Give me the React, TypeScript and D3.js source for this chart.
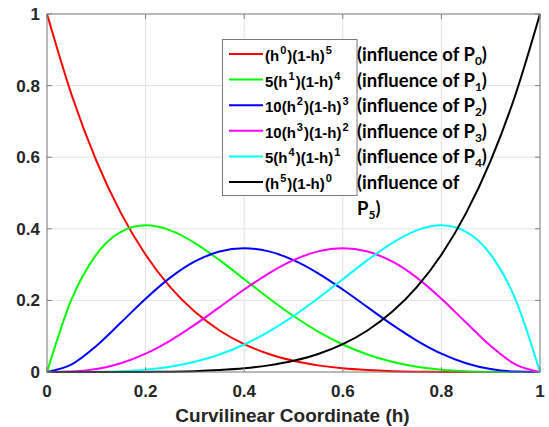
import React from "react";
import * as d3 from "d3";

const H = [0, 0.05, 0.1, 0.15, 0.2, 0.25, 0.3, 0.35, 0.4, 0.45, 0.5, 0.55, 0.6, 0.65, 0.7, 0.75, 0.8, 0.85, 0.9, 0.95, 1];
const B0 = [1, 0.7738, 0.5905, 0.4437, 0.3277, 0.2373, 0.1681, 0.116, 0.0778, 0.0503, 0.0313, 0.0185, 0.0102, 0.0053, 0.0024, 0.001, 0.0003, 0.0001, 0, 0, 0];
const B1 = [0, 0.2036, 0.3281, 0.3915, 0.4096, 0.3955, 0.3602, 0.3124, 0.2592, 0.2059, 0.1563, 0.1128, 0.0768, 0.0488, 0.0284, 0.0146, 0.0064, 0.0022, 0.0005, 0, 0];
const B2 = [0, 0.0214, 0.0729, 0.1382, 0.2048, 0.2637, 0.3087, 0.3364, 0.3456, 0.3369, 0.3125, 0.2757, 0.2304, 0.1812, 0.1323, 0.0879, 0.0512, 0.0244, 0.0081, 0.0011, 0];
const B3 = [0, 0.0011, 0.0081, 0.0244, 0.0512, 0.0879, 0.1323, 0.1812, 0.2304, 0.2757, 0.3125, 0.3369, 0.3456, 0.3364, 0.3087, 0.2637, 0.2048, 0.1382, 0.0729, 0.0214, 0];
const B4 = [0, 0, 0.0005, 0.0022, 0.0064, 0.0146, 0.0284, 0.0488, 0.0768, 0.1128, 0.1563, 0.2059, 0.2592, 0.3124, 0.3602, 0.3955, 0.4096, 0.3915, 0.3281, 0.2036, 0];
const B5 = [0, 0, 0, 0.0001, 0.0003, 0.001, 0.0024, 0.0053, 0.0102, 0.0185, 0.0313, 0.0503, 0.0778, 0.116, 0.1681, 0.2373, 0.3277, 0.4437, 0.5905, 0.7738, 1];

const SERIES = [B0, B1, B2, B3, B4, B5];
const COLORS = ["#ff0000", "#00ff00", "#0000ff", "#ff00ff", "#00ffff", "#000000"];
// legend: [coefficient, h exponent, (1-h) exponent]
const LEGEND: [string, string, string][] = [
  ["", "0", "5"],
  ["5", "1", "4"],
  ["10", "2", "3"],
  ["10", "3", "2"],
  ["5", "4", "1"],
  ["", "5", "0"],
];
const INFLUENCE = ["0", "1", "2", "3", "4", "5"];
const X_TICKS = [0, 0.2, 0.4, 0.6, 0.8, 1];
const Y_TICKS = [0, 0.2, 0.4, 0.6, 0.8, 1];
const X_LABEL = "Curvilinear Coordinate (h)";

export default function App() {
  const left = 47, right = 540, top = 14, bottom = 372;
  const x = d3.scaleLinear().domain([0, 1]).range([left, right]);
  const y = d3.scaleLinear().domain([0, 1]).range([bottom, top]);
  const line = d3
    .line<number>()
    .x((_, i) => x(H[i]))
    .y((d) => y(d))
    .curve(d3.curveMonotoneX);
  const axisColor = "#808080";
  const tickColor = "#262626";
  const arial = "Liberation Sans, Arial, sans-serif";
  const legX = 222.5, legY = 39.5, legW = 134.5, legH = 156;
  const rowY = (i: number) => 54 + i * 25.6;

  return (
    <svg width={549} height={427} style={{ position: "absolute", left: 0, top: 0, background: "#fff" }}>
      <rect x={0} y={0} width={549} height={427} fill="#fff" />
      {/* grid */}
      {X_TICKS.map((t) => (
        <line key={"gx" + t} x1={x(t)} x2={x(t)} y1={top} y2={bottom} stroke="#e3e3e3" strokeWidth={1} />
      ))}
      {Y_TICKS.map((t) => (
        <line key={"gy" + t} x1={left} x2={right} y1={y(t)} y2={y(t)} stroke="#e3e3e3" strokeWidth={1} />
      ))}
      {/* curves */}
      {SERIES.map((s, i) => (
        <path key={"s" + i} d={line(s) || ""} fill="none" stroke={COLORS[i]} strokeWidth={2} />
      ))}
      {/* axes box */}
      <rect x={left} y={top} width={right - left} height={bottom - top} fill="none" stroke={axisColor} strokeWidth={1} />
      {X_TICKS.map((t) => (
        <g key={"tx" + t}>
          <line x1={x(t)} x2={x(t)} y1={bottom} y2={bottom - 5} stroke={axisColor} />
          <line x1={x(t)} x2={x(t)} y1={top} y2={top + 5} stroke={axisColor} />
          <text x={x(t)} y={397} textAnchor="middle" fontFamily={arial} fontWeight="bold" fontSize={17} fill={tickColor}>
            {String(t)}
          </text>
        </g>
      ))}
      {Y_TICKS.map((t) => (
        <g key={"ty" + t}>
          <line x1={left} x2={left + 5} y1={y(t)} y2={y(t)} stroke={axisColor} />
          <line x1={right} x2={right - 5} y1={y(t)} y2={y(t)} stroke={axisColor} />
          <text x={40} y={y(t) + 6} textAnchor="end" fontFamily={arial} fontWeight="bold" fontSize={17} fill={tickColor}>
            {String(t)}
          </text>
        </g>
      ))}
      <text x={292.5} y={422} textAnchor="middle" fontFamily={arial} fontWeight="bold" fontSize={19} fill={tickColor}>
        {X_LABEL}
      </text>
      {/* legend */}
      <rect x={legX} y={legY} width={legW} height={legH} fill="#fff" stroke="#7a7a7a" strokeWidth={1} />
      {LEGEND.map(([c, a, b], i) => (
        <g key={"l" + i}>
          <line x1={229} x2={263} y1={rowY(i)} y2={rowY(i)} stroke={COLORS[i]} strokeWidth={2} />
          <text x={265} y={rowY(i) + 7} fontFamily={arial} fontWeight="bold" fontSize={15} fill="#000">
            {c}(h
            <tspan fontSize={11} dy={-7} dx={1}>{a}</tspan>
            <tspan dy={7} dx={1}>)(1-h)</tspan>
            <tspan fontSize={11} dy={-7} dx={1}>{b}</tspan>
          </text>
        </g>
      ))}
      {/* influence annotations */}
      {INFLUENCE.map((p, i) =>
        i < 5 ? (
          <text key={"a" + i} x={357} y={rowY(i) + 7} fontFamily="Lato, sans-serif" fontWeight="bold" fontSize={18.5} fill="#000">
            (influence of P
            <tspan fontSize={12} dy={4}>{p}</tspan>
            <tspan dy={-4}>)</tspan>
          </text>
        ) : (
          <g key={"a" + i}>
            <text x={357} y={rowY(i) + 7} fontFamily="Lato, sans-serif" fontWeight="bold" fontSize={18.5} fill="#000">
              (influence of
            </text>
            <text x={357} y={rowY(i) + 33} fontFamily="Lato, sans-serif" fontWeight="bold" fontSize={18.5} fill="#000">
              P<tspan fontSize={12} dy={4}>{p}</tspan>
              <tspan dy={-4}>)</tspan>
            </text>
          </g>
        )
      )}
    </svg>
  );
}
